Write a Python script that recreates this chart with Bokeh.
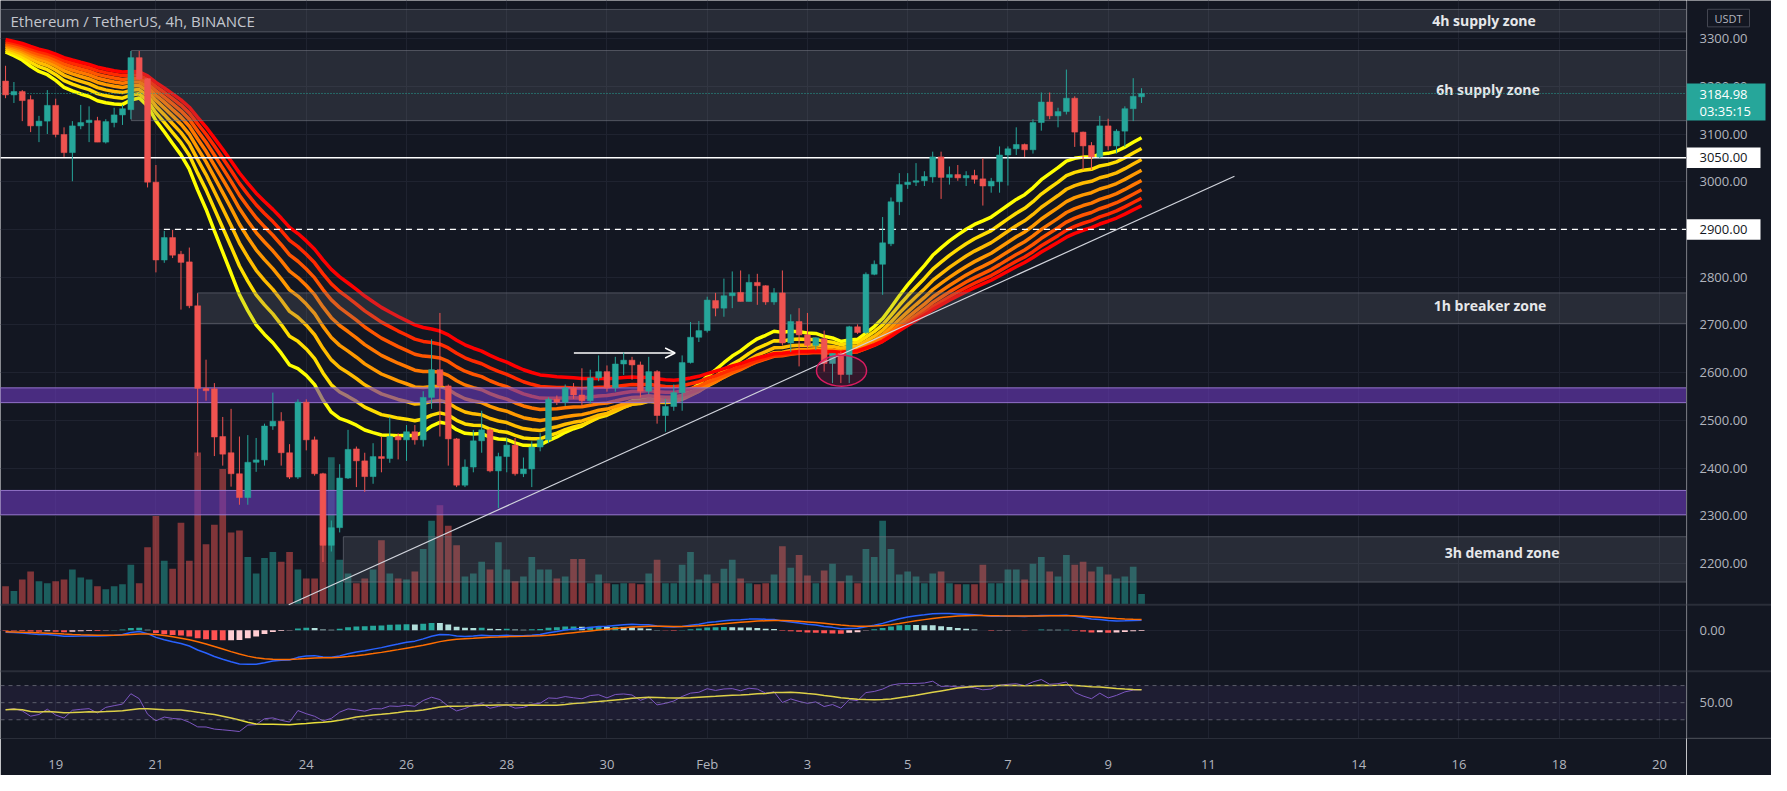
import numpy as np
from bokeh.plotting import figure
from bokeh.layouts import row
from bokeh.models import (Range1d, FixedTicker, BoxAnnotation, Span, Label,
                          Arrow, OpenHead, ColumnDataSource)
from bokeh.embed import file_html
from bokeh.resources import INLINE

# ---------------- data : ETH/USDT 4h, BINANCE -----------------
# x unit = day (Jan 18 = 18, Feb 1 = 32); first candle Jan 18 00:00
FIRST_CANDLE_DAY = 18.0
CANDLE_DAYS = 4.0 / 24.0

opens = [3211, 3182, 3189, 3172, 3117, 3127, 3160, 3099, 3061, 3117,
         3124, 3128, 3083, 3124, 3140, 3151, 3260, 3216, 2999, 2836,
         2883, 2848, 2832, 2740, 2567, 2566, 2466, 2432, 2388, 2338,
         2412, 2417, 2488, 2498, 2432, 2381, 2538, 2459, 2388, 2238,
         2275, 2379, 2440, 2415, 2382, 2424, 2420, 2466, 2459, 2476,
         2459, 2548, 2606, 2572, 2461, 2364, 2402, 2457, 2480, 2394,
         2424, 2448, 2388, 2398, 2444, 2459, 2544, 2538, 2568, 2553,
         2541, 2589, 2602, 2568, 2618, 2626, 2616, 2561, 2602, 2510,
         2529, 2558, 2621, 2674, 2688, 2751, 2735, 2761, 2768, 2749,
         2789, 2782, 2748, 2767, 2662, 2707, 2679, 2657, 2671, 2619,
         2640, 2596, 2696, 2684, 2806, 2827, 2870, 2958, 2994, 2999,
         3002, 3010, 3052, 3009, 3015, 3008, 3013, 3006, 2991, 3000,
         3056, 3069, 3078, 3067, 3124, 3167, 3138, 3147, 3175, 3104,
         3076, 3052, 3117, 3075, 3106, 3153, 3178]
highs = [3243, 3209, 3192, 3181, 3138, 3192, 3174, 3114, 3127, 3161,
         3158, 3136, 3131, 3155, 3161, 3274, 3274, 3217, 3035, 2897,
         2899, 2855, 2862, 2766, 2627, 2578, 2507, 2524, 2466, 2469,
         2463, 2493, 2558, 2517, 2450, 2544, 2544, 2466, 2390, 2290,
         2408, 2480, 2445, 2432, 2452, 2466, 2507, 2473, 2490, 2490,
         2561, 2670, 2725, 2575, 2463, 2418, 2480, 2520, 2483, 2432,
         2463, 2463, 2422, 2456, 2473, 2548, 2552, 2575, 2578, 2609,
         2606, 2636, 2615, 2633, 2642, 2633, 2623, 2633, 2605, 2545,
         2575, 2636, 2706, 2708, 2759, 2767, 2797, 2812, 2814, 2806,
         2807, 2783, 2777, 2814, 2722, 2735, 2725, 2673, 2688, 2640,
         2644, 2698, 2701, 2810, 2835, 2926, 2967, 3018, 3018, 3039,
         3022, 3063, 3063, 3032, 3035, 3022, 3025, 3049, 3008, 3074,
         3074, 3114, 3080, 3131, 3187, 3187, 3155, 3235, 3179, 3105,
         3083, 3138, 3132, 3110, 3158, 3217, 3196]
lows = [3175, 3165, 3127, 3104, 3083, 3100, 3093, 3052, 3001, 3110,
        3083, 3083, 3080, 3114, 3119, 3131, 3213, 2988, 2810, 2830,
        2840, 2732, 2735, 2425, 2541, 2425, 2405, 2361, 2323, 2323,
        2392, 2405, 2480, 2405, 2377, 2377, 2437, 2384, 2203, 2225,
        2265, 2377, 2360, 2350, 2367, 2391, 2411, 2418, 2415, 2449,
        2445, 2524, 2466, 2405, 2360, 2360, 2391, 2432, 2391, 2316,
        2391, 2384, 2381, 2360, 2435, 2452, 2532, 2530, 2545, 2530,
        2535, 2582, 2560, 2560, 2595, 2585, 2548, 2555, 2493, 2476,
        2520, 2520, 2619, 2664, 2684, 2718, 2717, 2735, 2749, 2749,
        2742, 2742, 2742, 2657, 2643, 2613, 2650, 2647, 2602, 2578,
        2578, 2578, 2681, 2681, 2804, 2763, 2865, 2930, 2985, 2991,
        2991, 2998, 2964, 2994, 3002, 2991, 2996, 2950, 2977, 2977,
        2992, 3056, 3052, 3059, 3107, 3131, 3114, 3141, 3073, 3025,
        3025, 3049, 3066, 3059, 3073, 3127, 3165]
closes = [3182, 3189, 3170, 3117, 3127, 3160, 3099, 3061, 3117, 3124,
          3129, 3083, 3126, 3140, 3153, 3260, 3215, 2999, 2836, 2883,
          2846, 2831, 2740, 2567, 2562, 2465, 2429, 2388, 2338, 2412,
          2417, 2488, 2498, 2432, 2381, 2538, 2459, 2388, 2238, 2275,
          2379, 2439, 2415, 2382, 2424, 2420, 2466, 2459, 2476, 2459,
          2548, 2606, 2572, 2461, 2364, 2402, 2457, 2480, 2394, 2424,
          2448, 2388, 2398, 2444, 2459, 2544, 2538, 2568, 2553, 2541,
          2589, 2602, 2568, 2618, 2626, 2616, 2561, 2602, 2510, 2529,
          2558, 2621, 2674, 2688, 2752, 2735, 2761, 2767, 2749, 2789,
          2782, 2748, 2767, 2662, 2707, 2679, 2657, 2673, 2619, 2640,
          2596, 2696, 2684, 2806, 2827, 2872, 2958, 2994, 2999, 3002,
          3011, 3052, 3009, 3015, 3008, 3013, 3005, 2991, 3001, 3056,
          3069, 3078, 3067, 3124, 3167, 3138, 3147, 3175, 3104, 3075,
          3052, 3117, 3075, 3106, 3153, 3179, 3184.98]
volumes = [38, 28, 52, 68, 48, 44, 48, 52, 72, 56,          # thousand ETH
           52, 38, 32, 38, 42, 82, 44, 118, 182, 90,
           74, 168, 90, 312, 124, 164, 278, 148, 152, 98,
           64, 96, 108, 88, 108, 72, 54, 54, 268, 302,
           92, 64, 44, 54, 72, 132, 64, 54, 52, 68,
           114, 172, 204, 162, 122, 58, 64, 88, 72, 128,
           72, 48, 58, 98, 72, 72, 54, 58, 94, 94,
           44, 62, 44, 42, 44, 44, 42, 64, 92, 44,
           44, 82, 108, 52, 62, 44, 74, 92, 54, 44,
           42, 44, 62, 120, 76, 102, 60, 44, 70, 84,
           48, 60, 44, 114, 98, 172, 114, 62, 68, 58,
           44, 64, 68, 44, 42, 42, 42, 82, 44, 44,
           72, 72, 52, 84, 98, 68, 58, 102, 82, 88,
           68, 78, 62, 54, 58, 78, 22]

# EMA ribbon (periods, values read at the first candle, colours)
ribbon_periods = [20, 25, 30, 35, 40, 45, 50, 55]
ribbon_start = [3272, 3276, 3280, 3284, 3287, 3290, 3294, 3298]
ribbon_colors = ["#ffff00", "#ffdd00", "#ffbb00", "#ff9900",
                 "#ff7700", "#ff5500", "#ff2a00", "#ff0000"]
# MACD(12,26,9) and RSI(14) warm-up states read at the first candle
macd_fast_start, macd_slow_start, macd_signal_start = 3215.0, 3228.0, -10.0
rsi_gain_start, rsi_loss_start = 10.0, 14.0

# axis ticks
tick_days = [19, 21, 24, 26, 28, 30, 32, 34, 36, 38, 40, 42, 45, 47, 49, 51]
tick_labels = ["19", "21", "24", "26", "28", "30", "Feb", "3", "5", "7",
               "9", "11", "14", "16", "18", "20"]
price_ticks = [2200, 2300, 2400, 2500, 2600, 2700, 2800, 2900, 3000, 3100, 3200, 3300]

# drawings
zones = [  # (name, left day or None, bottom, top, kind, label x, label y)
    ("4h supply zone", None, 3314, 3361, "gray", 47.50, 3337),
    ("6h supply zone", 20.51, 3128, 3275, "gray", 47.58, 3194),
    ("1h breaker zone", 21.83, 2703, 2767, "gray", 47.62, 2741),
    ("", None, 2537, 2568, "purple", None, None),
    ("", None, 2302, 2353, "purple", None, None),
    ("3h demand zone", 24.74, 2161, 2256, "gray", 47.86, 2222),
]
level_solid = 3050.0
level_dashed = 2900.0
level_dashed_from = 21.16
trend_line = ((23.65, 2113.4), (42.52, 3011.5))
arrow_line = ((29.34, 2641.0), (31.36, 2641.0))
circle_mark = (34.68, 2604.0, 1.0, 65.0)
last_price = 3184.98
countdown = "03:35:15"

# ---------------- layout geometry (reference pixels) ----------------
W, H = 1771, 775
RIGHT, BOTTOM = 85, 35
FW, FH = W - RIGHT, H - BOTTOM
X0, X1 = 17.899, 51.54
REF_H = 756.0                      # reference frame height
PX_PER_USD = 0.4888                # reference px per USDT
def price_at(yref):
    return 3300.0 - (yref - 39.0) / PX_PER_USD
MAIN_BOTTOM, MACD_BOTTOM = 619.0, 687.0
MACD_ZERO, RSI_MID, RSI_PX = 645.0, 719.3, 0.875
VOL_PX = 0.5
PX_PER_DAY = FW / (X1 - X0)

BG = "#131722"
GRID = "#1f2330"
TXT = "#b2b5be"
LINE = "#2a2e39"
UP, DOWN = "#26a69a", "#ef5350"
FONT = "Open Sans"

# ---------------- indicators ----------------
c = np.array(closes, dtype=float)
n = len(c)
t = FIRST_CANDLE_DAY + np.arange(n) * CANDLE_DAYS

def ema(series, period, start):
    a = 2.0 / (period + 1)
    out = [start]
    for v in series[1:]:
        out.append(out[-1] + a * (v - out[-1]))
    return np.array(out)

ribbons = [ema(c, per, s) for per, s in zip(ribbon_periods, ribbon_start)]
fast = ema(c, 12, macd_fast_start)
slow = ema(c, 26, macd_slow_start)
macd = fast - slow
signal = ema(macd, 9, macd_signal_start)
hist = macd - signal
hist_colors = []
for i, h in enumerate(hist):
    prev = hist[i - 1] if i else h
    if h >= 0:
        hist_colors.append("#26a69a" if h >= prev else "#b2dfdb")
    else:
        hist_colors.append("#ff5252" if h <= prev else "#ffcdd2")

g, l = rsi_gain_start, rsi_loss_start
rsi = [100 - 100 / (1 + g / l)]
for i in range(1, n):
    ch = c[i] - c[i - 1]
    g = (g * 13 + max(ch, 0)) / 14
    l = (l * 13 + max(-ch, 0)) / 14
    rsi.append(100 - 100 / (1 + g / l))
rsi = np.array(rsi)
rsi_ma = np.array([rsi[max(0, i - 13):i + 1].mean() for i in range(n)])

# ---------------- main chart ----------------
macd_k = 35.0 / abs(macd.min())
yr = Range1d(price_at(REF_H), price_at(0))
p = figure(width=FW, height=H, x_range=Range1d(X0, X1), y_range=yr,
           output_backend="svg", toolbar_location=None, y_axis_location=None,
           background_fill_color=BG, border_fill_color=BG, outline_line_color=None,
           min_border_left=0, min_border_top=0, min_border_right=0,
           min_border_bottom=BOTTOM)
p.extra_y_ranges = {
    "vol": Range1d((MAIN_BOTTOM - REF_H) / VOL_PX, MAIN_BOTTOM / VOL_PX),
    "macd": Range1d((MACD_ZERO - REF_H) / macd_k, MACD_ZERO / macd_k),
    "rsi": Range1d(50 + (RSI_MID - REF_H) / RSI_PX, 50 + RSI_MID / RSI_PX),
}
macd_zero_at = price_at(MACD_ZERO)
rsi_mid_at = price_at(RSI_MID)

p.xaxis.ticker = FixedTicker(ticks=tick_days)
p.xaxis.major_label_overrides = dict(zip(tick_days, tick_labels))
p.xaxis.major_tick_line_color = None
p.xaxis.minor_tick_line_color = None
p.xaxis.axis_line_color = LINE
p.xaxis.major_label_text_color = TXT
p.xaxis.major_label_text_font = FONT
p.xaxis.major_label_text_font_size = "13px"
p.xaxis.major_label_standoff = 10

p.xgrid.ticker = FixedTicker(ticks=tick_days)
p.ygrid.ticker = FixedTicker(ticks=price_ticks + [round(macd_zero_at, 1)])
p.grid.grid_line_color = GRID
p.grid.grid_line_width = 1

# volume
up = c >= np.array(opens)
vcol = [UP if u else DOWN for u in up]
p.vbar(x=t, top=volumes, bottom=0, width=CANDLE_DAYS * 0.8, fill_color=vcol,
       fill_alpha=0.5, line_color=None, y_range_name="vol")

# ribbon
for r, col in zip(ribbons, ribbon_colors):
    p.line(t, r, line_color=col, line_width=3.5)

# MACD
p.vbar(x=t, top=hist, bottom=0, width=CANDLE_DAYS * 0.7, fill_color=hist_colors,
       line_color=None, y_range_name="macd")
p.line(t, macd, line_color="#2962ff", line_width=1.5, y_range_name="macd")
p.line(t, signal, line_color="#ff6d00", line_width=1.5, y_range_name="macd")

# RSI
p.add_layout(BoxAnnotation(bottom=30, top=70, y_range_name="rsi", fill_color="#7e57c2",
                           fill_alpha=0.1, line_alpha=0))
for lv in (70, 50, 30):
    p.add_layout(Span(location=lv, dimension="width", y_range_name="rsi",
                      line_color="#787b86", line_dash="4 4", line_width=1, line_alpha=0.7))
p.line(t, rsi, line_color="#7e57c2", line_width=1, y_range_name="rsi")
p.line(t, rsi_ma, line_color="#e8de3a", line_width=1.5, y_range_name="rsi")

# panel separators
for yref in (MAIN_BOTTOM, MACD_BOTTOM):
    p.add_layout(Span(location=price_at(yref), dimension="width",
                      line_color=LINE, line_width=2))

# zones
for name, left, bot, top, kind, lx, ly in zones:
    if kind == "gray":
        box = BoxAnnotation(bottom=bot, top=top, fill_color="#787b86", fill_alpha=0.22,
                            line_color="#787b86", line_alpha=0.55, line_width=1)
    else:
        box = BoxAnnotation(bottom=bot, top=top, fill_color="#6a3ab9", fill_alpha=0.62,
                            line_color="#9c7bd6", line_alpha=0.9, line_width=1)
    if left is not None:
        box.left = left
    p.add_layout(box)
    if name:
        p.add_layout(Label(x=lx, y=ly, text=name, text_align="center",
                           text_baseline="middle", text_color="#e6e7ea",
                           text_font=FONT, text_font_size="14px",
                           text_font_style="bold"))

p.add_layout(Label(x=X0 + 10 / PX_PER_DAY, y=3337.5, text="Ethereum / TetherUS, 4h, BINANCE",
                   text_align="left", text_baseline="middle", text_color="#c3c6ce",
                   text_font=FONT, text_font_size="15px"))

# levels and drawings
p.segment(x0=[level_dashed_from], y0=[level_dashed], x1=[X1 + 1], y1=[level_dashed],
          line_color="white", line_width=1.2, line_dash="6 5", level="overlay")
p.add_layout(Span(location=level_solid, dimension="width", line_color="white", line_width=1.5))
p.add_layout(Span(location=last_price, dimension="width", line_color=UP,
                  line_width=1, line_dash="1 2"))

# candles (above the zones)
src = ColumnDataSource(dict(t=t, o=opens, h=highs, l=lows, c=closes, col=vcol))
p.segment(x0="t", y0="h", x1="t", y1="l", line_color="col", line_width=1, source=src,
          level="overlay")
p.vbar(x="t", top="o", bottom="c", width=CANDLE_DAYS * 0.7, fill_color="col",
       line_color="col", line_width=0.5, source=src, level="overlay")

(tx0, ty0), (tx1, ty1) = trend_line
p.segment(x0=[tx0], y0=[ty0], x1=[tx1], y1=[ty1], line_color="#d1d4dc", line_width=1.2,
          level="overlay")
(ax0, ay0), (ax1, ay1) = arrow_line
p.add_layout(Arrow(end=OpenHead(size=10, line_color="white", line_width=1.5),
                   x_start=ax0, y_start=ay0, x_end=ax1, y_end=ay1,
                   line_color="white", line_width=1.5))
ex, ey, ew, eh = circle_mark
p.ellipse(x=[ex], y=[ey], width=ew, height=eh, fill_color="#e91e63", fill_alpha=0.15,
          line_color="#d81b60", line_width=1.5, level="overlay")

# ---------------- price scale (right strip) ----------------
s = figure(width=RIGHT, height=H, x_range=Range1d(0, RIGHT), y_range=yr,
           output_backend="svg", toolbar_location=None,
           x_axis_location=None, y_axis_location=None,
           background_fill_color=BG, border_fill_color=BG, outline_line_color=None,
           min_border_left=0, min_border_top=0, min_border_right=0,
           min_border_bottom=BOTTOM)
s.grid.visible = False
s.segment(x0=[0.5], y0=[price_at(REF_H)], x1=[0.5], y1=[price_at(0)], line_color=LINE,
          line_width=1)
for yref in (MAIN_BOTTOM, MACD_BOTTOM):
    s.segment(x0=[0], y0=[price_at(yref)], x1=[RIGHT], y1=[price_at(yref)],
              line_color=LINE, line_width=2)
s.segment(x0=[0], y0=[price_at(REF_H - 0.5)], x1=[RIGHT], y1=[price_at(REF_H - 0.5)],
          line_color=LINE, line_width=1)

scale_vals = price_ticks + [macd_zero_at, rsi_mid_at]
scale_text = [f"{v:.2f}" for v in price_ticks] + ["0.00", "50.00"]
s.text(x=13, y=scale_vals, text=scale_text, text_align="left", text_baseline="middle",
       text_color=TXT, text_font_size="13px", text_font={"value": FONT})

# USDT badge
s.quad(left=[21], right=[63], top=[price_at(9)], bottom=[price_at(27)], fill_color=BG,
       line_color="#434651", line_width=1)
s.text(x=[42], y=[price_at(18)], text=["USDT"], text_align="center", text_baseline="middle",
       text_color=TXT, text_font_size="11px", text_font={"value": FONT})
# last price badge
s.quad(left=[0], right=[79], top=[price_at(85)], bottom=[price_at(123)], fill_color=UP,
       line_color=None)
s.text(x=[13, 13], y=[price_at(96), price_at(113)], text=[f"{last_price:.2f}", countdown],
       text_align="left", text_baseline="middle", text_color="white",
       text_font_size="13px", text_font={"value": FONT})
# level badges
half = 10.5 / PX_PER_USD
for lv in (level_solid, level_dashed):
    s.quad(left=[0], right=[74], top=[lv + half], bottom=[lv - half], fill_color="white",
           line_color=None)
    s.text(x=[13], y=[lv], text=[f"{lv:.2f}"], text_align="left", text_baseline="middle",
           text_color=BG, text_font_size="13px", text_font={"value": FONT})

layout = row(p, s, spacing=0)
open("out.html", "w").write(file_html(layout, INLINE))
